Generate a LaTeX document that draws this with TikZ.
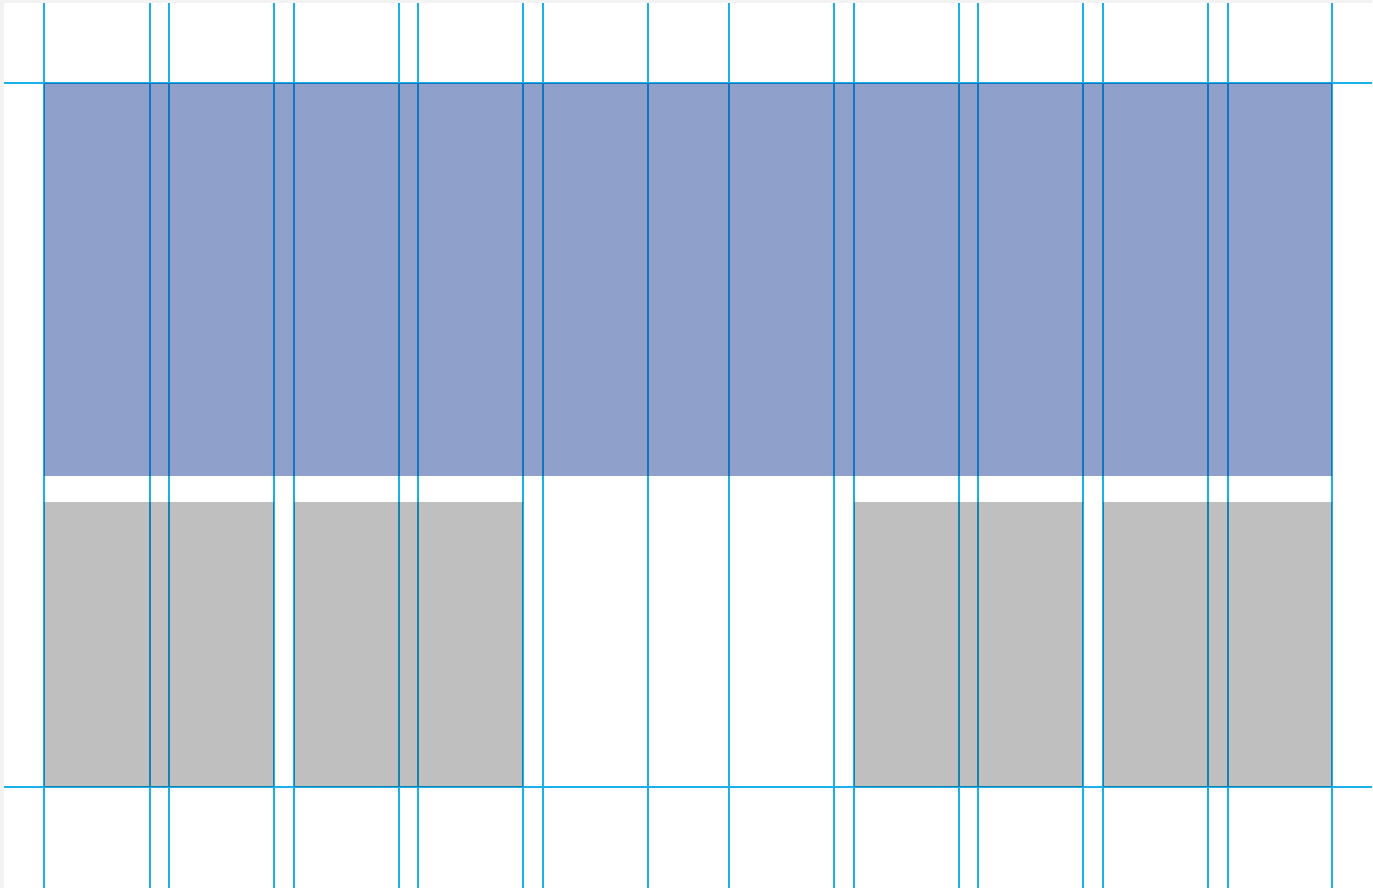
\documentclass[tikz,border=0pt]{standalone}
\usepackage{tikz}
\definecolor{gridcyan}{RGB}{26,176,232}
\definecolor{bandnavy}{RGB}{12,48,142}
\definecolor{framegray}{RGB}{242,242,242}
\tikzset{
  gridline/.style={draw=gridcyan, line width=2pt},
  band/.style={fill=bandnavy, fill opacity=0.46},
  block/.style={fill=black, fill opacity=0.25}
}
\begin{document}
\begin{tikzpicture}[x=1pt, y=-1pt]
  % page
  \fill[framegray] (0,0) rectangle (1373,889);
  \fill[white] (4,3) rectangle (1373,889);
  % column guides
  \foreach \xg in {44,150,169,274,294,399,418,523,543,648,730,835,855,960,979,1084,1104,1209,1229,1333}
    \draw[gridline] (\xg,3) -- (\xg,889);
  \draw[gridline] (4,83) -- (1373,83);
  \draw[gridline] (4,788) -- (1373,788);
  % header band
  \fill[band] (44,83) rectangle (1333,476);
  % content blocks
  \foreach \xa/\xb in {44/274,294/523,855/1084,1104/1333}
    \fill[block] (\xa,502) rectangle (\xb,788);
\end{tikzpicture}
\end{document}
